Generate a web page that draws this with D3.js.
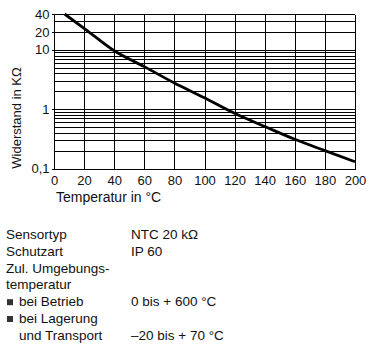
<!DOCTYPE html>
<html>
<head>
<meta charset="utf-8">
<script src="https://cdn.jsdelivr.net/npm/d3@7"></script>
<style>
  html, body { margin: 0; padding: 0; background: #fff; }
  svg { display: block; font-family: "Liberation Sans", Arial, sans-serif; }
</style>
</head>
<body>
<svg id="chart" width="373" height="349"></svg>
<script>
// NTC 20 kΩ resistance curve (temperature in °C, resistance in kΩ)
const temperature = [7, 20, 40, 60, 80, 100, 120, 140, 160, 180, 200];
const resistance  = [40, 23, 9.6, 5.2, 2.75, 1.55, 0.85, 0.51, 0.31, 0.2, 0.13];

const xTicks = [0, 20, 40, 60, 80, 100, 120, 140, 160, 180, 200];
const yTickValues = [0.1, 1, 10, 20, 40];
const yTickLabels = ["0,1", "1", "10", "20", "40"];
const yGridValues = [0.1, 0.2, 0.3, 0.4, 0.5, 0.6, 0.7, 0.8, 0.9,
                     1, 2, 3, 4, 5, 6, 7, 8, 9, 10, 20, 30, 40];

// Specification table below the chart
const specLabels = ["Sensortyp", "Schutzart", "Zul. Umgebungs-", "temperatur",
                    "bei Betrieb", "bei Lagerung", "und Transport"];
const specValues = ["NTC 20 kΩ", "IP 60", "", "", "0 bis + 600 °C", "", "–20 bis + 70 °C"];
const specBullets = [false, false, false, false, true, true, false];
const specIndent  = [false, false, false, false, true, true, true];

const svg = d3.select("#chart");

const x = d3.scaleLinear().domain([0, 200]).range([54, 355]);
const y = d3.scaleLog().domain([0.1, 40]).range([168.5, 14]);

// grid
const grid = svg.append("g").attr("shape-rendering", "crispEdges")
  .attr("stroke", "#000").attr("stroke-width", 1);

grid.selectAll("line.h").data(yGridValues).join("line")
  .attr("class", "h")
  .attr("x1", x(0)).attr("x2", x(200))
  .attr("y1", d => Math.round(y(d)) + 0.5).attr("y2", d => Math.round(y(d)) + 0.5);

grid.selectAll("line.v").data(xTicks).join("line")
  .attr("class", "v")
  .attr("x1", d => Math.round(x(d)) + 0.5).attr("x2", d => Math.round(x(d)) + 0.5)
  .attr("y1", Math.round(y(40)) + 0.5).attr("y2", Math.round(y(0.1)) + 0.5);

// axes (labels only, the grid forms the frame)
const xAxis = d3.axisBottom(x).tickValues(xTicks).tickSize(0).tickPadding(6);
svg.append("g")
  .attr("transform", `translate(0,${Math.round(y(0.1)) + 0.5})`)
  .call(xAxis)
  .call(g => g.select(".domain").remove())
  .call(g => g.selectAll("text").attr("font-size", 13).attr("fill", "#111")
    .attr("font-family", "'Liberation Sans', Arial, sans-serif"));

const yAxis = d3.axisLeft(y).tickValues(yTickValues)
  .tickFormat((d, i) => yTickLabels[i]).tickSize(3).tickPadding(2);
svg.append("g")
  .attr("transform", `translate(${Math.round(x(0)) + 0.5},0)`)
  .call(yAxis)
  .call(g => g.select(".domain").remove())
  .call(g => g.selectAll("line").attr("stroke", "#000").attr("shape-rendering", "crispEdges"))
  .call(g => g.selectAll("text").attr("font-size", 13).attr("fill", "#111")
    .attr("font-family", "'Liberation Sans', Arial, sans-serif"));

// curve
const line = d3.line()
  .x((d, i) => x(temperature[i]))
  .y(d => y(d))
  .curve(d3.curveMonotoneX);

svg.append("path")
  .datum(resistance)
  .attr("d", line)
  .attr("fill", "none")
  .attr("stroke", "#000")
  .attr("stroke-width", 2.8)
  .attr("stroke-linejoin", "round");

// axis titles
svg.append("text")
  .attr("transform", "translate(21,118) rotate(-90)")
  .attr("text-anchor", "middle")
  .attr("font-size", 13)
  .attr("fill", "#111")
  .text("Widerstand in KΩ");

svg.append("text")
  .attr("x", 56).attr("y", 202)
  .attr("font-size", 14)
  .attr("fill", "#111")
  .text("Temperatur in °C");

// specification table
const rowY = i => 239 + i * 16.8;
const spec = svg.append("g").attr("font-size", 13.5).attr("fill", "#111");

spec.selectAll("text.lbl").data(specLabels).join("text")
  .attr("class", "lbl")
  .attr("x", (d, i) => specIndent[i] ? 19 : 6)
  .attr("y", (d, i) => rowY(i))
  .text(d => d);

spec.selectAll("text.val").data(specValues).join("text")
  .attr("class", "val")
  .attr("x", 131)
  .attr("y", (d, i) => rowY(i))
  .text(d => d);

spec.selectAll("rect.bullet")
  .data(specBullets.map((b, i) => ({ b, i })).filter(d => d.b))
  .join("rect")
  .attr("class", "bullet")
  .attr("x", 7).attr("y", d => rowY(d.i) - 7)
  .attr("width", 6).attr("height", 6)
  .attr("fill", "#333");
</script>
</body>
</html>
